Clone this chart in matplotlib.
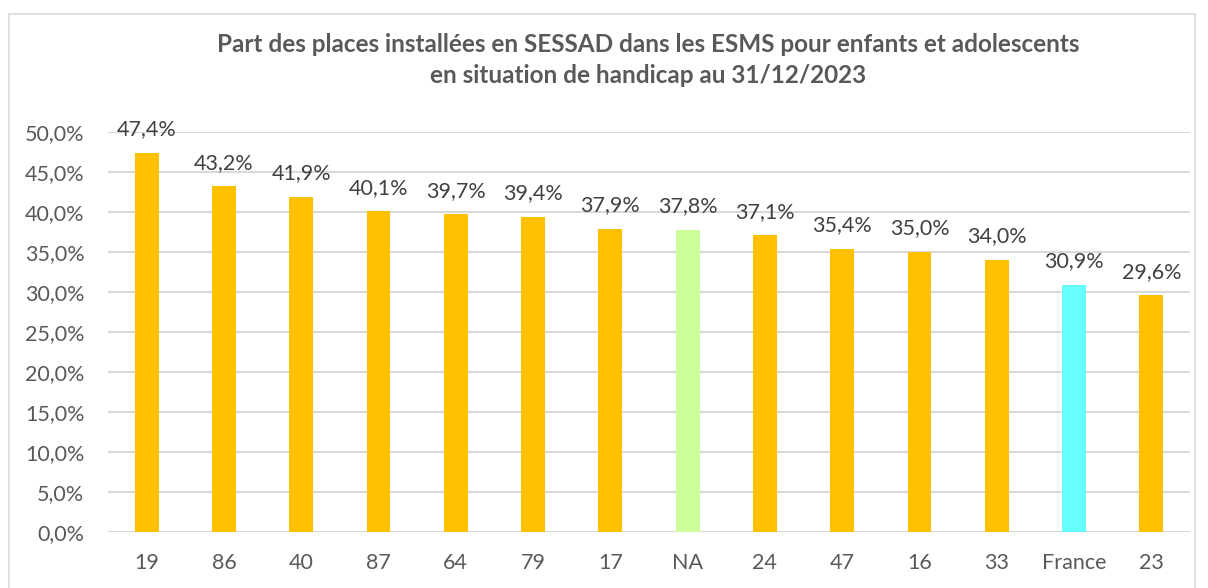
import matplotlib.pyplot as plt
from matplotlib.patches import Rectangle
from matplotlib.ticker import FuncFormatter

# données
categories = ['19', '86', '40', '87', '64', '79', '17', 'NA', '24', '47', '16', '33', 'France', '23']
valeurs = [47.4, 43.2, 41.9, 40.1, 39.7, 39.4, 37.9, 37.8, 37.1, 35.4, 35.0, 34.0, 30.9, 29.6]
couleurs = ['#ffc000'] * 7 + ['#ccff99'] + ['#ffc000'] * 4 + ['#66ffff', '#ffc000']

titre = ('Part des places installées en SESSAD dans les ESMS pour enfants et adolescents\n'
         'en situation de handicap au 31/12/2023')

plt.rcParams['font.family'] = ['Lato', 'DejaVu Sans']
gris = '#595959'

fig = plt.figure(figsize=(12.08, 5.88), dpi=100)
fig.patches.append(Rectangle((9 / 1208, -0.01), 1186 / 1208, 1 - 14 / 588 + 0.01,
                             transform=fig.transFigure, fill=False,
                             edgecolor='#d9d9d9', linewidth=1.2))

ax = fig.add_axes([108 / 1208, 1 - 532 / 588, 1082 / 1208, 400 / 588])
x = list(range(len(categories)))
vals = [v / 100 for v in valeurs]
ax.bar(x, vals, width=0.31, color=couleurs, zorder=3)

for i in range(len(x)):
    ax.text(x[i], vals[i] + 0.017, ('%.1f%%' % valeurs[i]).replace('.', ','),
            ha='center', va='bottom', fontsize=15.5, color='#404040', zorder=4)

ax.set_xlim(-0.5, len(categories) - 0.5)
ax.set_ylim(0, 0.5)
ax.set_yticks([i * 0.05 for i in range(11)])
ax.yaxis.set_major_formatter(FuncFormatter(lambda v, p: ('%.1f%%' % (v * 100)).replace('.', ',')))
ax.set_xticks(x)
ax.set_xticklabels(categories)
ax.tick_params(axis='both', length=0, labelsize=15.5, labelcolor=gris)
ax.tick_params(axis='x', pad=15)
ax.tick_params(axis='y', pad=17)
ax.grid(axis='y', color='#d9d9d9', linewidth=1.5, zorder=0)
for s in ax.spines.values():
    s.set_visible(False)

fig.text(648 / 1208, 1 - 60 / 588, titre, ha='center', va='center', fontsize=17.5,
         fontweight='bold', color=gris, linespacing=1.4)

fig.savefig('out.png', dpi=100)
